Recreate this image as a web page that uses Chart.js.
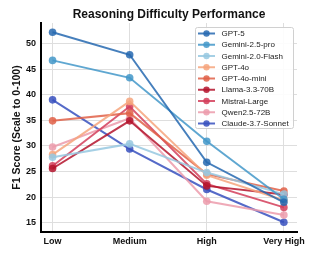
<!DOCTYPE html>
<html>
<head>
<meta charset="utf-8">
<script src="https://cdn.jsdelivr.net/npm/chart.js@4.4.0/dist/chart.umd.min.js"></script>
<style>
  html, body { margin: 0; padding: 0; background: #fff; }
  #wrap { width: 317px; height: 257px; }
</style>
</head>
<body>
<div id="wrap"><canvas id="myChart"></canvas></div>
<script>
// categories and series
var levels = ['Low', 'Medium', 'High', 'Very High'];
var yTicks = [15, 20, 25, 30, 35, 40, 45, 50];

var gpt5        = [52.2, 47.8, 26.8, 19.0];
var gemini25pro = [46.7, 43.3, 30.9, 19.6];
var gemini20fl  = [27.8, 30.4, 24.8, 20.6];
var gpt4o       = [28.3, 38.7, 24.3, 19.4];
var gpt4omini   = [34.9, 36.4, 24.5, 21.2];
var llama       = [25.6, 34.9, 22.2, 20.5];
var mistral     = [26.1, 37.7, 22.6, 18.0];
var qwen        = [29.8, 35.4, 19.2, 16.5];
var claude      = [39.0, 29.4, 21.5, 15.1];

var names  = ['GPT-5', 'Gemini-2.5-pro', 'Gemini-2.0-Flash', 'GPT-4o', 'GPT-4o-mini',
              'Llama-3.3-70B', 'Mistral-Large', 'Qwen2.5-72B', 'Claude-3.7-Sonnet'];
var series = [gpt5, gemini25pro, gemini20fl, gpt4o, gpt4omini, llama, mistral, qwen, claude];
var colors = ['rgba(38,104,176,0.85)', 'rgba(67,152,201,0.85)', 'rgba(150,200,225,0.85)',
              'rgba(246,164,124,0.85)', 'rgba(224,96,72,0.85)', 'rgba(180,20,45,0.85)',
              'rgba(212,62,90,0.85)', 'rgba(236,155,172,0.85)', 'rgba(55,80,190,0.85)'];

var FONT = "'Liberation Sans', Arial, sans-serif";

var datasets = series.map(function (vals, i) {
    return {
        label: names[i],
        data: vals.map(function (v, j) { return { x: j, y: v }; }),
        borderColor: colors[i],
        backgroundColor: colors[i],
        borderWidth: 2,
        pointRadius: 3.8,
        pointBorderWidth: 0
    };
});

// title + legend drawn inside the plot area (top right)
var extras = {
    id: 'extras',
    afterDraw: function (chart) {
        var c = chart.ctx, a = chart.chartArea;
        c.save();
        c.fillStyle = '#111';
        c.font = 'bold 12px ' + FONT;
        c.textAlign = 'center';
        c.textBaseline = 'middle';
        c.fillText('Reasoning Difficulty Performance', (a.left + a.right) / 2, 15);

        var bx = 195, by = 27, bw = 98, bh = 101;
        c.fillStyle = 'rgba(255,255,255,0.9)';
        c.strokeStyle = '#d0d0d0';
        c.lineWidth = 1;
        c.beginPath();
        c.roundRect(bx + 0.5, by + 0.5, bw, bh, 2);
        c.fill();
        c.stroke();

        c.font = '8px ' + FONT;
        c.textAlign = 'left';
        chart.data.datasets.forEach(function (ds, i) {
            var yy = 33.5 + i * 11.25;
            c.strokeStyle = ds.borderColor;
            c.lineWidth = 2;
            c.beginPath();
            c.moveTo(198, yy);
            c.lineTo(215, yy);
            c.stroke();
            c.fillStyle = ds.borderColor;
            c.beginPath();
            c.arc(206.5, yy, 3.2, 0, Math.PI * 2);
            c.fill();
            c.fillStyle = '#222';
            c.fillText(ds.label, 221.5, yy + 0.5);
        });
        c.restore();
    }
};

new Chart(document.getElementById('myChart'), {
    type: 'line',
    data: { datasets: datasets },
    plugins: [extras],
    options: {
        responsive: true,
        maintainAspectRatio: false,
        animation: false,
        layout: { padding: { top: 23, right: 20, left: 0, bottom: 0 } },
        plugins: { legend: { display: false }, tooltip: { enabled: false } },
        scales: {
            x: {
                type: 'linear',
                min: -0.15,
                max: 3.17,
                afterBuildTicks: function (s) {
                    s.ticks = levels.map(function (l, i) { return { value: i }; });
                },
                afterFit: function (s) { s.height = 25; },
                ticks: {
                    color: '#111',
                    font: { family: FONT, size: 9, weight: 'bold' },
                    padding: 4,
                    maxRotation: 0,
                    callback: function (v) { return levels[v]; }
                },
                grid: { color: '#dedede', drawTicks: false },
                border: { color: '#000', width: 2 }
            },
            y: {
                min: 13.2,
                max: 54,
                afterBuildTicks: function (s) {
                    s.ticks = yTicks.map(function (v) { return { value: v }; });
                },
                afterFit: function (s) { s.width = 41; },
                ticks: {
                    color: '#111',
                    font: { family: FONT, size: 9, weight: 'bold' },
                    padding: 5
                },
                grid: { color: '#dedede', drawTicks: false },
                border: { color: '#000', width: 2 },
                title: {
                    display: true,
                    text: 'F1 Score (Scale to 0-100)',
                    color: '#111',
                    font: { family: FONT, size: 10.5, weight: 'bold' },
                    padding: { top: 11, bottom: 0 }
                }
            }
        }
    }
});
</script>
</body>
</html>
